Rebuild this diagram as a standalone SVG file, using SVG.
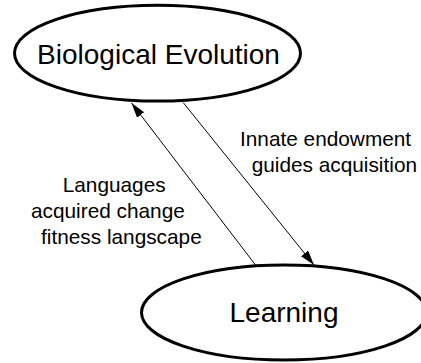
<svg xmlns="http://www.w3.org/2000/svg" width="421" height="363" viewBox="0 0 421 363">
  <style>
    .node { fill: #ffffff; stroke: #000000; stroke-width: 3; }
    .ntext { font-family: "Liberation Sans", Arial, sans-serif; font-size: 28px; fill: #000000; text-anchor: middle; }
    .label { font-family: "Liberation Sans", Arial, sans-serif; font-size: 20.8px; fill: #000000; }
    .edge { stroke: #000000; stroke-width: 1; fill: none; marker-end: url(#arrow); }
  </style>
  <defs>
    <marker id="arrow" markerUnits="userSpaceOnUse" markerWidth="16" markerHeight="10" refX="15" refY="4.5" orient="auto">
      <path d="M0,0 L15,4.5 L0,9 z" fill="#000000"/>
    </marker>
  </defs>
  <rect width="421" height="363" fill="#ffffff"/>
  <g id="node-biological-evolution">
    <ellipse class="node" cx="157.5" cy="53.2" rx="143" ry="47.9"/>
    <text class="ntext" x="158.5" y="63.5">Biological Evolution</text>
  </g>
  <g id="node-learning">
    <ellipse class="node" cx="284" cy="312.5" rx="142.5" ry="47.5"/>
    <text class="ntext" x="284" y="321.7">Learning</text>
  </g>
  <g id="connectors">
    <line class="edge" x1="255.5" y1="265" x2="131.5" y2="103"/>
    <line class="edge" x1="183.3" y1="102.7" x2="314" y2="265"/>
    <g class="label">
      <text x="240" y="145.5">Innate endowment</text>
      <text x="251.7" y="171.7">guides acquisition</text>
      <text x="62.7" y="191.5">Languages</text>
      <text x="31" y="217.5">acquired change</text>
      <text x="41" y="243.7">fitness langscape</text>
    </g>
  </g>
</svg>
